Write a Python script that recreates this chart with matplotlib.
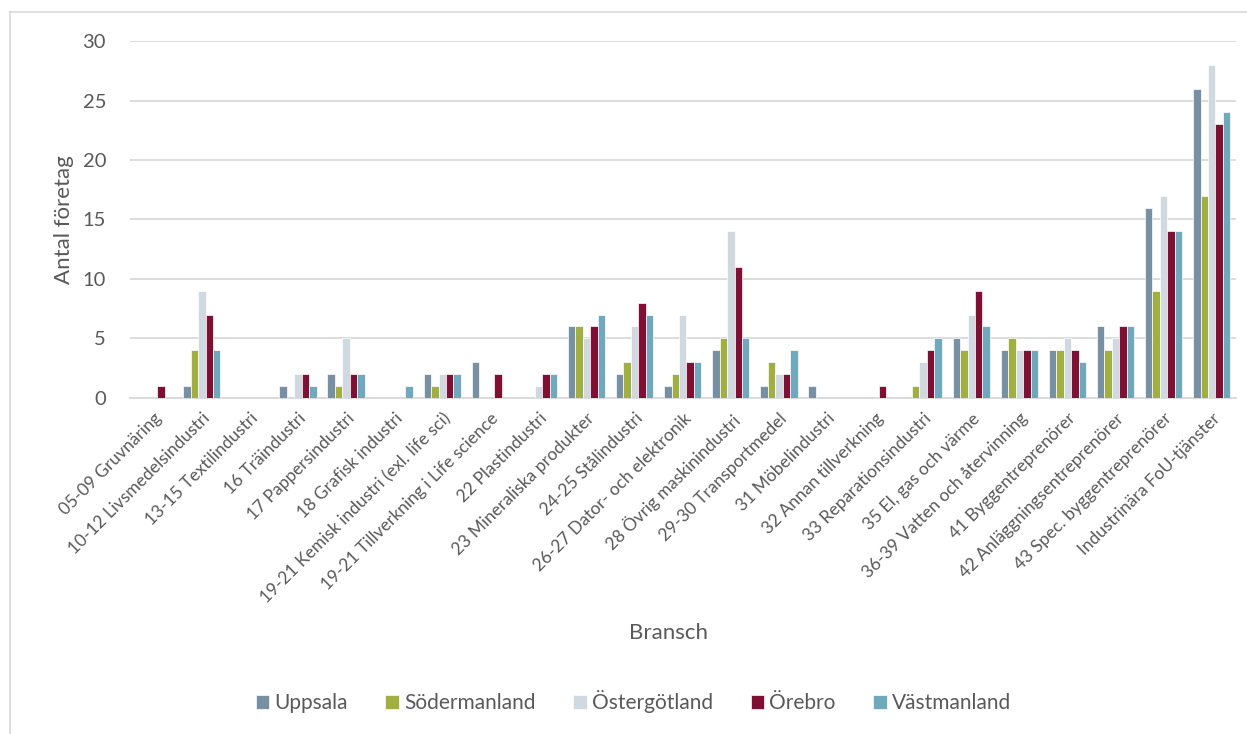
import numpy as np
import matplotlib.pyplot as plt
from matplotlib.lines import Line2D

plt.rcParams['font.family'] = ['Lato', 'DejaVu Sans']

branscher = [
    "05-09 Gruvnäring", "10-12 Livsmedelsindustri", "13-15 Textilindustri",
    "16 Träindustri", "17 Pappersindustri", "18 Grafisk industri",
    "19-21 Kemisk industri (exl. life sci)", "19-21 Tillverkning i Life science",
    "22 Plastindustri", "23 Mineraliska produkter", "24-25 Stålindustri",
    "26-27 Dator- och elektronik", "28 Övrig maskinindustri",
    "29-30 Transportmedel", "31 Möbelindustri", "32 Annan tillverkning",
    "33 Reparationsindustri", "35 El, gas och värme",
    "36-39 Vatten och återvinning", "41 Byggentreprenörer",
    "42 Anläggningsentreprenörer", "43 Spec. byggentreprenörer",
    "Industrinära FoU-tjänster",
]

uppsala      = [0, 1, 0, 1, 2, 0, 2, 3, 0, 6, 2, 1, 4, 1, 1, 0, 0, 5, 4, 4, 6, 16, 26]
sodermanland = [0, 4, 0, 0, 1, 0, 1, 0, 0, 6, 3, 2, 5, 3, 0, 0, 1, 4, 5, 4, 4, 9, 17]
ostergotland = [0, 9, 0, 2, 5, 0, 2, 0, 1, 5, 6, 7, 14, 2, 0, 0, 3, 7, 4, 5, 5, 17, 28]
orebro       = [1, 7, 0, 2, 2, 0, 2, 2, 2, 6, 8, 3, 11, 2, 0, 1, 4, 9, 4, 4, 6, 14, 23]
vastmanland  = [0, 4, 0, 1, 2, 1, 2, 0, 2, 7, 7, 3, 5, 4, 0, 0, 5, 6, 4, 3, 6, 14, 24]

lan = ["Uppsala", "Södermanland", "Östergötland", "Örebro", "Västmanland"]
serier = [uppsala, sodermanland, ostergotland, orebro, vastmanland]
farger = ["#7790A3", "#A0AF40", "#D0D9E0", "#7D1033", "#70A8BC"]
textfarg = '#595959'

fig = plt.figure(figsize=(12.47, 7.34), dpi=100)
ax = fig.add_axes([0.104, 0.458, 0.887, 0.486])

x = np.arange(len(branscher))
bw = 0.155
for i, (namn, vals, c) in enumerate(zip(lan, serier, farger)):
    ax.bar(x + (i - 2) * bw, vals, bw, color=c, edgecolor='white',
           linewidth=0.5, label=namn, zorder=3)

ax.set_xlim(-0.5, len(branscher) - 0.5)
ax.set_ylim(0, 30)
ax.set_yticks(range(0, 31, 5))
ax.yaxis.grid(True, color='#D9D9D9', linewidth=1.3, zorder=0)
ax.tick_params(axis='y', length=0, pad=17, labelsize=14.5, labelcolor=textfarg)
ax.tick_params(axis='x', length=0, pad=9, labelsize=12.5, labelcolor=textfarg)
for s in ['top', 'right', 'left']:
    ax.spines[s].set_visible(False)
ax.spines['bottom'].set_color('#D9D9D9')
ax.spines['bottom'].set_linewidth(1.3)

ax.set_xticks(x)
ax.set_xticklabels(branscher, rotation=45, ha='right', rotation_mode='anchor')
ax.set_ylabel("Antal företag", fontsize=16, color=textfarg, labelpad=6)
fig.text(0.536, 0.138, "Bransch", fontsize=16, color=textfarg,
         ha='center', va='center')

leg = fig.legend(loc='center', bbox_to_anchor=(0.508, 0.044), ncol=5,
                 frameon=False, fontsize=15, handlelength=0.65,
                 handleheight=0.65, handletextpad=0.25, columnspacing=1.8)
for t in leg.get_texts():
    t.set_color(textfarg)

# chart area border
fig.add_artist(Line2D([0.008, 0.008], [0, 0.984], color='#D9D9D9', lw=1.2))
fig.add_artist(Line2D([0.008, 1.0], [0.984, 0.984], color='#D9D9D9', lw=1.2))

fig.savefig("out.png", dpi=100)
